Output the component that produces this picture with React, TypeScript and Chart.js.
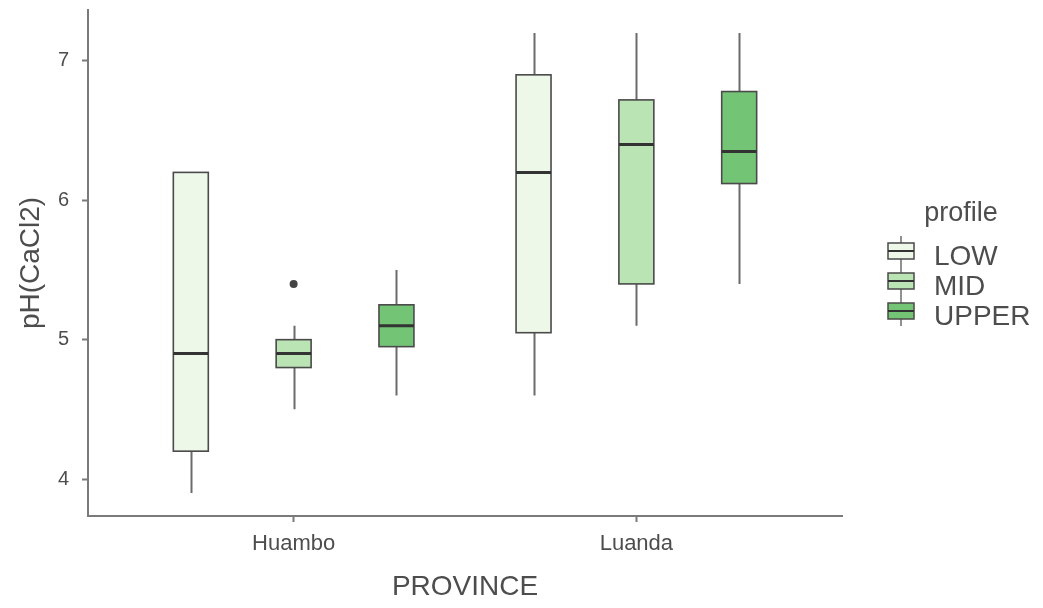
import React, { useEffect, useRef } from 'react';
import { Chart, registerables } from 'chart.js';

Chart.register(...registerables);

const categories = ['Huambo', 'Luanda'];
const profiles = ['LOW', 'MID', 'UPPER'];
const fillColors = ['#EDF8E9', '#BAE4B3', '#74C476'];
const yTicks = [4, 5, 6, 7];

// box statistics per profile, one value per province [Huambo, Luanda]
const lowWhiskerMin = [3.9, 4.6];
const lowQ1 = [4.2, 5.05];
const lowMedian = [4.9, 6.2];
const lowQ3 = [6.2, 6.9];
const lowWhiskerMax = [6.2, 7.2];
const lowOutliers: number[][] = [[], []];

const midWhiskerMin = [4.5, 5.1];
const midQ1 = [4.8, 5.4];
const midMedian = [4.9, 6.4];
const midQ3 = [5.0, 6.72];
const midWhiskerMax = [5.1, 7.2];
const midOutliers: number[][] = [[5.4], []];

const upperWhiskerMin = [4.6, 5.4];
const upperQ1 = [4.95, 6.12];
const upperMedian = [5.1, 6.35];
const upperQ3 = [5.25, 6.78];
const upperWhiskerMax = [5.5, 7.2];
const upperOutliers: number[][] = [[], []];

const stats = [
  { wmin: lowWhiskerMin, q1: lowQ1, med: lowMedian, q3: lowQ3, wmax: lowWhiskerMax, out: lowOutliers },
  { wmin: midWhiskerMin, q1: midQ1, med: midMedian, q3: midQ3, wmax: midWhiskerMax, out: midOutliers },
  { wmin: upperWhiskerMin, q1: upperQ1, med: upperMedian, q3: upperQ3, wmax: upperWhiskerMax, out: upperOutliers },
];

const dodge = [-0.3, 0, 0.3];
const boxHalf = 0.051;
const FONT = '"Liberation Sans", Arial, sans-serif';
const TEXT = '#4d4d4d';
const AXIS = '#7a7a7a';

const boxPlugin = {
  id: 'boxplots',
  beforeDatasetsDraw(chart: any) {
    const { ctx, scales } = chart;
    const x = scales.x;
    const y = scales.y;
    ctx.save();
    stats.forEach((s, i) => {
      categories.forEach((_, c) => {
        const pos = c + dodge[i];
        const cx = Math.round(x.getPixelForValue(pos)) + 0.5;
        const l = x.getPixelForValue(pos - boxHalf);
        const r = x.getPixelForValue(pos + boxHalf);
        const yq1 = y.getPixelForValue(s.q1[c]);
        const yq3 = y.getPixelForValue(s.q3[c]);
        const ymed = y.getPixelForValue(s.med[c]);
        const ywmin = y.getPixelForValue(s.wmin[c]);
        const ywmax = y.getPixelForValue(s.wmax[c]);
        ctx.strokeStyle = '#6b6b6b';
        ctx.lineWidth = 2;
        ctx.beginPath();
        ctx.moveTo(cx, ywmin);
        ctx.lineTo(cx, yq1);
        ctx.moveTo(cx, yq3);
        ctx.lineTo(cx, ywmax);
        ctx.stroke();
        ctx.fillStyle = fillColors[i];
        ctx.fillRect(l, yq3, r - l, yq1 - yq3);
        ctx.strokeStyle = '#4a4a4a';
        ctx.lineWidth = 1.6;
        ctx.strokeRect(l, yq3, r - l, yq1 - yq3);
        ctx.strokeStyle = '#333333';
        ctx.lineWidth = 3;
        ctx.beginPath();
        ctx.moveTo(l, ymed);
        ctx.lineTo(r, ymed);
        ctx.stroke();
      });
    });
    ctx.restore();
  },
  afterDraw(chart: any) {
    const { ctx, chartArea } = chart;
    ctx.save();
    const keyLeft = chartArea.right + 46;
    const keyW = 26;
    const keyCx = keyLeft + keyW / 2;
    const firstKeyCy = 251;
    const step = 30;
    ctx.fillStyle = TEXT;
    ctx.font = `27px ${FONT}`;
    ctx.textAlign = 'center';
    ctx.textBaseline = 'alphabetic';
    ctx.fillText('profile', keyLeft + 73, 221);
    profiles.forEach((p, i) => {
      const cy = firstKeyCy + i * step;
      ctx.strokeStyle = '#6b6b6b';
      ctx.lineWidth = 1.5;
      ctx.beginPath();
      ctx.moveTo(keyCx, cy - 15);
      ctx.lineTo(keyCx, cy + 15);
      ctx.stroke();
      ctx.fillStyle = fillColors[i];
      ctx.fillRect(keyLeft, cy - 8, keyW, 16);
      ctx.strokeStyle = '#4a4a4a';
      ctx.lineWidth = 1.5;
      ctx.strokeRect(keyLeft, cy - 8, keyW, 16);
      ctx.strokeStyle = '#333333';
      ctx.lineWidth = 2;
      ctx.beginPath();
      ctx.moveTo(keyLeft, cy);
      ctx.lineTo(keyLeft + keyW, cy);
      ctx.stroke();
      ctx.fillStyle = TEXT;
      ctx.font = `28px ${FONT}`;
      ctx.textAlign = 'left';
      ctx.textBaseline = 'alphabetic';
      ctx.fillText(p, keyLeft + 46, cy + 13.5);
    });
    ctx.restore();
  },
};

export default function App() {
  const ref = useRef<HTMLCanvasElement | null>(null);
  useEffect(() => {
    if (!ref.current) return;
    const datasets = stats.map((s, i) => ({
      label: profiles[i],
      data: s.out.flatMap((vals, c) => vals.map((v) => ({ x: c + dodge[i], y: v }))),
      pointRadius: 4,
      pointHoverRadius: 4,
      backgroundColor: '#444444',
      borderColor: '#444444',
      borderWidth: 0,
    }));
    const chart = new Chart(ref.current, {
      type: 'scatter',
      data: { datasets },
      plugins: [boxPlugin],
      options: {
        responsive: false,
        animation: false,
        events: [],
        layout: { padding: { top: 10, right: 201, bottom: 0, left: 0 } },
        plugins: { legend: { display: false }, tooltip: { enabled: false } },
        scales: {
          x: {
            type: 'linear',
            min: -0.6,
            max: 1.6,
            afterBuildTicks: (s: any) => {
              s.ticks = categories.map((_, i) => ({ value: i }));
            },
            afterFit: (s: any) => {
              s.height = 92;
              s.paddingLeft = 0;
              s.paddingRight = 0;
            },
            ticks: {
              callback: (v: any) => categories[v as number],
              font: { family: FONT, size: 22 },
              color: TEXT,
              padding: 9,
              maxRotation: 0,
            },
            grid: { drawOnChartArea: false, drawTicks: true, tickLength: 6, tickColor: AXIS, tickWidth: 2 },
            border: { display: true, color: AXIS, width: 2 },
            title: {
              display: true,
              text: 'PROVINCE',
              font: { family: FONT, size: 28 },
              color: TEXT,
              padding: { top: 0, bottom: 4 },
            },
          },
          y: {
            type: 'linear',
            min: 3.735,
            max: 7.365,
            afterBuildTicks: (s: any) => {
              s.ticks = yTicks.map((v) => ({ value: v }));
            },
            afterFit: (s: any) => {
              s.width = 88;
              s.paddingTop = 0;
              s.paddingBottom = 0;
            },
            ticks: {
              font: { family: FONT, size: 20 },
              color: TEXT,
              padding: 13,
            },
            grid: { drawOnChartArea: false, drawTicks: true, tickLength: 6, tickColor: AXIS, tickWidth: 2 },
            border: { display: true, color: AXIS, width: 2 },
            title: {
              display: true,
              text: 'pH(CaCl2)',
              font: { family: FONT, size: 28 },
              color: TEXT,
              padding: { top: 14, bottom: 0 },
            },
          },
        },
      },
    });
    return () => chart.destroy();
  }, []);
  return (
    <div style={{ position: 'absolute', left: 0, top: 0, width: 1043, height: 608, background: '#ffffff' }}>
      <canvas ref={ref} width={1043} height={608} style={{ display: 'block' }} />
    </div>
  );
}
